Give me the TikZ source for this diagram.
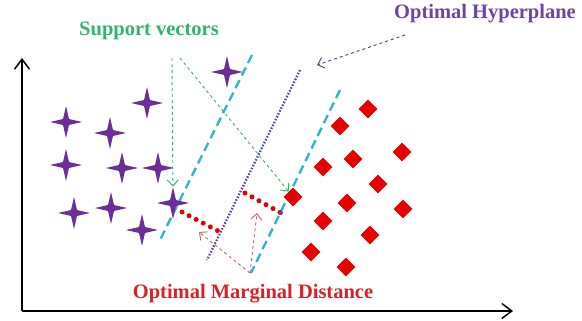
\documentclass[tikz,border=0pt]{standalone}
\usepackage{fontspec}
\setmainfont{Liberation Serif}
\usetikzlibrary{shapes.geometric,arrows.meta}

\definecolor{starpurple}{RGB}{106,46,150}
\definecolor{dotred}{RGB}{230,0,0}
\definecolor{margincyan}{RGB}{50,180,210}
\definecolor{hypviolet}{RGB}{95,75,145}
\definecolor{svgreen}{RGB}{50,180,110}
\definecolor{hyplabel}{RGB}{110,70,160}
\definecolor{mrglabel}{RGB}{215,35,40}
\definecolor{mrgarrow}{RGB}{200,95,105}

\tikzset{
    classa/.style = {shape=star, star points=4, star point ratio=3.8,
        fill=starpurple, draw=none, minimum size=32pt, inner sep=0pt},
    classb/.style = {shape=diamond, fill=dotred, draw=none,
        minimum size=19pt, inner sep=0pt},
    label/.style = {font=\bfseries\fontsize{20.5}{21}\selectfont,
        anchor=base, inner sep=0pt},
    barb/.style = {-{Straight Barb[length=6pt,width=11pt]}},
    margin/.style = {draw=margincyan, line width=2.4pt,
        dash pattern=on 9pt off 5pt},
    gap/.style = {draw=dotred, line width=5pt, line cap=round,
        dash pattern=on 0pt off 8pt}
}

\begin{document}
\begin{tikzpicture}[x=1pt, y=-1pt]
    \useasboundingbox (0,0) rectangle (582,321);

    % axes
    \coordinate (O) at (22,311);
    \coordinate (ytop) at (22,58);
    \coordinate (xend) at (513,311);
    \draw[line width=1.5pt, -{Straight Barb[length=10pt,width=15pt]}] (O) -- (ytop);
    \draw[line width=1.5pt, -{Straight Barb[length=10pt,width=15pt]}] (O) -- (xend);

    % margins and hyperplane
    \draw[margin] (252,55) -- (159,242);
    \draw[margin] (340,90) -- (251,273);
    \draw[
        draw = hypviolet,
        line width = 2.3pt,
        dash pattern = on 1.6pt off 1.6pt
    ]
    (300,70) -- (207,260);

    % classes
    \foreach \x/\y [count=\i] in {66/122, 110/133, 147/103, 227/72, 66/165,
        122/168, 158/168, 74/213, 111/208, 142/230, 173/203}
        \node[classa] (star\i) at (\x,\y) {};
    \foreach \x/\y [count=\i] in {293/197, 368/109, 340/126, 353/159, 402/152,
        323/167, 378/184, 347/203, 323/221, 403/209, 370/235, 311/252, 346/267}
        \node[classb] (dia\i) at (\x,\y) {};

    % margin distance
    \draw[gap] (182,212) -- (222,233);
    \draw[gap] (245,193) -- (281,213);
    \fill[hypviolet] (281,213) circle (2pt);

    % labels
    \node[label, text=svgreen] (svlabel) at (149,36) {Support vectors};
    \node[label, text=hyplabel] (hyplab) at (485,19) {Optimal Hyperplane};
    \node[label, text=mrglabel] (mrglab) at (253,298) {Optimal Marginal Distance};

    % pointers
    \coordinate (sva) at (172,58);
    \coordinate (svb) at (180,58);
    \draw[barb, svgreen, line width=0.9pt, dashed] (sva) -- (star11);
    \draw[barb, svgreen, line width=0.9pt, dashed] (svb) -- (dia1);

    \coordinate (hypa) at (405,35);
    \coordinate (hypb) at (317,65);
    \draw[barb, hypviolet, line width=1pt, dashed] (hypa) -- (hypb);

    \coordinate (mrg) at (250,273);
    \coordinate (mrga) at (199,232);
    \coordinate (mrgb) at (257,213);
    \draw[barb, mrgarrow, line width=0.9pt, dashed] (mrg) -- (mrga);
    \draw[barb, mrgarrow, line width=0.9pt, dashed] (mrg) -- (mrgb);
\end{tikzpicture}
\end{document}
